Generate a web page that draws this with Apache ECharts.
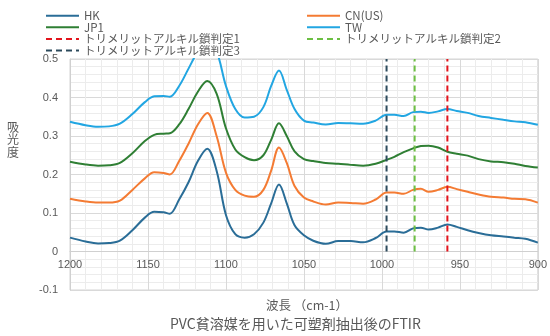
<!DOCTYPE html>
<html>
<head>
<meta charset="utf-8">
<script src="https://cdn.jsdelivr.net/npm/echarts@6/dist/echarts.min.js"></script>
<style>html,body{margin:0;padding:0;background:#fff}#c{width:550px;height:336px}</style>
</head>
<body>
<div id="c"></div>
<script>
const wavenumbers = [1200,1190,1182,1175,1168,1160,1152,1146,1140,1136,1130,1124,1118,1112,1106,1100,1094,1088,1082,1076,1071,1066,1061,1056,1050,1044,1036,1028,1020,1012,1004,997,992,986,980,975,970,964,958,952,945,938,930,922,915,908,900];
const hk = [0.036,0.026,0.021,0.022,0.028,0.055,0.088,0.103,0.102,0.098,0.135,0.18,0.235,0.267,0.21,0.095,0.045,0.036,0.045,0.075,0.125,0.174,0.125,0.068,0.042,0.028,0.02,0.027,0.027,0.024,0.035,0.052,0.052,0.049,0.06,0.062,0.057,0.062,0.07,0.064,0.055,0.048,0.042,0.039,0.036,0.033,0.023];
const cn = [0.137,0.13,0.127,0.127,0.132,0.16,0.19,0.206,0.204,0.2,0.235,0.28,0.33,0.36,0.3,0.205,0.16,0.145,0.142,0.16,0.21,0.27,0.23,0.17,0.14,0.13,0.122,0.127,0.126,0.124,0.135,0.153,0.153,0.15,0.16,0.163,0.155,0.16,0.168,0.162,0.155,0.148,0.142,0.14,0.137,0.136,0.127];
const jp1 = [0.233,0.226,0.223,0.224,0.23,0.255,0.287,0.303,0.306,0.307,0.33,0.37,0.415,0.443,0.41,0.32,0.265,0.245,0.237,0.25,0.29,0.333,0.3,0.26,0.24,0.235,0.23,0.228,0.225,0.223,0.228,0.238,0.246,0.258,0.268,0.274,0.275,0.27,0.259,0.254,0.249,0.24,0.234,0.232,0.228,0.222,0.218];
const tw = [0.337,0.328,0.324,0.325,0.332,0.357,0.388,0.403,0.404,0.402,0.43,0.475,0.52,0.55,0.52,0.43,0.37,0.348,0.35,0.375,0.43,0.47,0.42,0.37,0.34,0.335,0.33,0.334,0.333,0.332,0.34,0.355,0.355,0.352,0.362,0.363,0.36,0.364,0.37,0.365,0.36,0.352,0.347,0.342,0.338,0.336,0.329];
const judgeNames = ['トリメリットアルキル鎖判定1','トリメリットアルキル鎖判定2','トリメリットアルキル鎖判定3'];
const judgeWavenumbers = [958, 979, 997];
const judgeRange = [0, 0.5];

const chart = echarts.init(document.getElementById('c'), null, {renderer:'canvas'});
const pair = arr => wavenumbers.map((w,i)=>[w, arr[i]]);
const lineSeries = (name, arr, color) => ({
  name, type:'line', data: pair(arr), smooth: 0.35, symbol:'none', clip:true,
  lineStyle:{color, width:2}, itemStyle:{color}, z:2
});
const judgeColors = ['#e2141c','#6cbf43','#2c4a5c'];
const judgeSeries = judgeNames.map((n,i)=>({
  name:n, type:'line', symbol:'none',
  data: judgeRange.map(v=>[judgeWavenumbers[i], v]),
  lineStyle:{color:judgeColors[i], width:2, type:[6,4]}, itemStyle:{color:judgeColors[i]}, z:3
}));
const txt = {color:'#595959', fontSize:11.5, lineHeight:11, fontFamily:'"Noto Sans CJK JP", "Liberation Sans", sans-serif'};
const legendBase = {orient:'vertical', top:10, padding:0, itemWidth:33, itemHeight:10, itemGap:0.1, textStyle:txt, itemStyle:{opacity:0}};
const gridTop = 59, gridBottom = 46, yMin = -0.1, yMax = 0.5;
const plotH = 336 - gridTop - gridBottom;
chart.setOption({
  animation:false,
  backgroundColor:'#fff',
  grid:{left:70, right:6, top:gridTop, bottom:gridBottom, show:true, borderColor:'#d4d4d4', borderWidth:1},
  legend:[
    Object.assign({data:['HK','JP1',judgeNames[0],judgeNames[2]], left:45}, legendBase),
    Object.assign({data:['CN(US)','TW',judgeNames[1]], left:306}, legendBase)
  ],
  xAxis:{type:'value', inverse:true, min:900, max:1200, interval:50,
    offset: -plotH * (0 - yMin) / (yMax - yMin),
    axisLine:{onZero:false, lineStyle:{color:'#d0d0d0'}},
    axisTick:{show:false},
    axisLabel:{color:'#595959', fontSize:11, margin:8, fontFamily:'"Liberation Sans", sans-serif', formatter:v=>String(v)},
    splitLine:{lineStyle:{color:'#d9d9d9'}},
    minorTick:{show:false, splitNumber:5},
    minorSplitLine:{show:true, lineStyle:{color:'#ececec'}}
  },
  yAxis:{type:'value', min:yMin, max:yMax, interval:0.1,
    axisLine:{show:true, lineStyle:{color:'#d0d0d0'}},
    axisTick:{show:false},
    axisLabel:{color:'#595959', fontSize:11, margin:12, fontFamily:'"Liberation Sans", sans-serif',
      formatter:v=>String(+(+v).toFixed(1))},
    splitLine:{lineStyle:{color:'#d9d9d9'}},
    minorTick:{show:false, splitNumber:5},
    minorSplitLine:{show:true, lineStyle:{color:'#ececec'}}
  },
  graphic:[
    {type:'text', left:7, top:121, style:{text:'吸\n光\n度', fill:'#595959', fontSize:12, lineHeight:12.5, fontFamily:'"Noto Sans CJK JP", sans-serif'}},
    {type:'text', left:266, top:299, style:{text:'波長 （cm-1）', fill:'#595959', fontSize:12.5, fontFamily:'"Noto Sans CJK JP", sans-serif'}},
    {type:'text', left:170, top:317, style:{text:'PVC貧溶媒を用いた可塑剤抽出後のFTIR', fill:'#595959', fontSize:14, fontFamily:'"Noto Sans CJK JP", sans-serif'}}
  ],
  series:[
    lineSeries('HK', hk, '#2a6d97'),
    lineSeries('CN(US)', cn, '#f47b33'),
    lineSeries('JP1', jp1, '#2f7f34'),
    lineSeries('TW', tw, '#22a6e2'),
    ...judgeSeries
  ]
});
</script>
</body>
</html>
